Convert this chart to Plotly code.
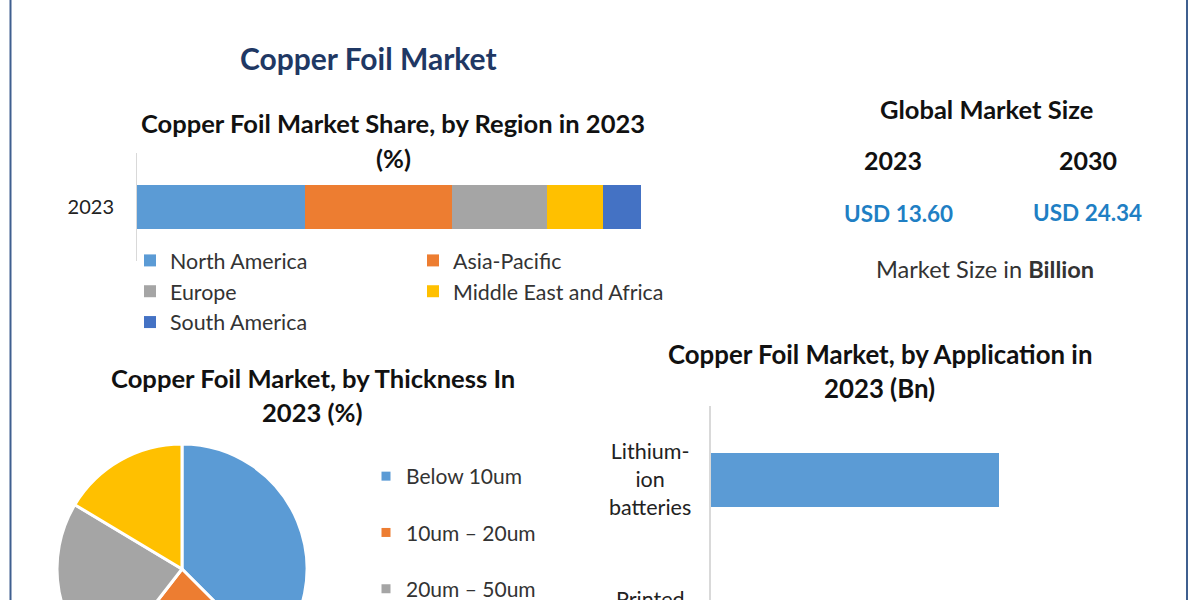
import plotly.graph_objects as go

W = 1200
H = 720
FONT = "Lato"

# market share by region, 2023 (%)
regions = ["North America", "Asia-Pacific", "Europe", "Middle East and Africa", "South America"]
region_share = [33.3, 29.2, 18.9, 11.1, 7.5]
region_colors = ["#5b9bd5", "#ed7d31", "#a5a5a5", "#ffc000", "#4472c4"]
region_legend = ["legend", "legend2", "legend", "legend2", "legend"]
share_year = ["2023"]

# by thickness, 2023 (%)
thickness = ["Below 10um", "10um – 20um", "20um – 50um", "Above 50um"]
thickness_share = [37.5, 23.0, 23.1, 16.4]
thickness_colors = ["#5b9bd5", "#ed7d31", "#a5a5a5", "#ffc000"]

# by application, 2023 (Bn)
applications = ["Lithium-ion batteries", "Printed Circuit Boards"]
application_labels = ["Lithium-<br>ion<br>batteries", "Printed<br>Circuit<br>Boards"]
application_values = [7.2, 4.1]

# market size
size_years = ["2023", "2030"]
size_values = ["USD 13.60", "USD 24.34"]


def px_x(x):
    return x / W


def px_y(y):
    return 1 - y / H


def add_text(fig, x, y, text, size=21, color="#111111", bold=False):
    if bold:
        text = "<b>" + text + "</b>"
    fig.add_annotation(x=px_x(x), y=px_y(y), xref="paper", yref="paper", text=text, showarrow=False,
                       align="center", xanchor="center", yanchor="middle",
                       font=dict(family=FONT, size=size, color=color))


fig = go.Figure()

# stacked bar, region share
for name, val, col, leg in zip(regions, region_share, region_colors, region_legend):
    fig.add_trace(go.Bar(x=[val], y=share_year, name=name, orientation="h", width=0.41,
                         marker=dict(color=col, line_width=0), legend=leg,
                         xaxis="x", yaxis="y"))

# pie, thickness
fig.add_trace(go.Pie(labels=thickness, values=thickness_share, sort=False, direction="clockwise",
                     rotation=0, textinfo="none", showlegend=False,
                     marker=dict(colors=thickness_colors, line=dict(color="white", width=3)),
                     domain=dict(x=[px_x(57), px_x(307)], y=[px_y(694), px_y(444)])))

# pie legend entries, one group each so the rows can be spaced out
for name, col in zip(thickness, thickness_colors):
    fig.add_trace(go.Scatter(x=[None], y=[None], mode="markers", name=name, legendgroup=name,
                             marker=dict(symbol="square", size=9, color=col),
                             legend="legend3", xaxis="x", yaxis="y"))

# horizontal bars, application
fig.add_trace(go.Bar(x=application_values, y=applications, orientation="h", width=0.36,
                     marker=dict(color="#5b9bd5", line_width=0), showlegend=False,
                     xaxis="x2", yaxis="y2"))

for lab, cat in zip(application_labels, applications):
    fig.add_annotation(x=px_x(650), y=cat, xref="paper", yref="y2", text=lab, showarrow=False,
                       align="center", xanchor="center", yanchor="middle", yshift=1,
                       font=dict(family=FONT, size=21.5, color="#222222"))

add_text(fig, 368, 57.5, "Copper Foil Market", size=30, color="#1f3864", bold=True)
add_text(fig, 393, 123, "Copper Foil Market Share, by Region in 2023", size=25.5, bold=True)
add_text(fig, 393, 158, "(%)", size=25.5, bold=True)
add_text(fig, 313, 378, "Copper Foil Market, by Thickness In", size=25.6, bold=True)
add_text(fig, 313, 412, "2023 (%)", size=25.6, bold=True)
add_text(fig, 880, 354, "Copper Foil Market, by Application in", size=25.8, bold=True)
add_text(fig, 880, 388, "2023 (Bn)", size=25.8, bold=True)

add_text(fig, 986, 109, "Global Market Size", size=25.5, bold=True)
add_text(fig, 893, 160, size_years[0], size=25, bold=True)
add_text(fig, 1088, 160, size_years[1], size=25, bold=True)
add_text(fig, 898, 213, size_values[0], size=22.5, color="#1f7fc4", bold=True)
add_text(fig, 1087, 212, size_values[1], size=22.5, color="#1f7fc4", bold=True)
add_text(fig, 985, 269, "Market Size in <b>Billion</b>", size=23.6, color="#333333")

# frame lines left and right
for xp in [10.5, 1187]:
    fig.add_shape(type="line", xref="paper", yref="paper", x0=px_x(xp), x1=px_x(xp), y0=0, y1=1,
                  line=dict(color="#3f5f8f", width=2))

legend_base = dict(orientation="v", bgcolor="rgba(0,0,0,0)", xanchor="left", yanchor="top",
                   traceorder="normal", font=dict(family=FONT, size=21.4, color="#333333"),
                   itemclick=False, itemdoubleclick=False)

fig.update_layout(
    width=W, height=H, margin=dict(l=0, r=0, t=0, b=0),
    paper_bgcolor="white", plot_bgcolor="white", barmode="stack",
    hovermode=False,
    xaxis=dict(domain=[px_x(137), px_x(641)], range=[0, 100], visible=False),
    yaxis=dict(domain=[px_y(261), px_y(153)], type="category", anchor="x",
               showline=True, linecolor="#d9d9d9", linewidth=1, ticks="", ticklabelstandoff=18,
               tickfont=dict(family=FONT, size=20, color="#222222")),
    xaxis2=dict(domain=[px_x(711), px_x(1100)], range=[0, 9.72], visible=False, anchor="y2"),
    yaxis2=dict(domain=[px_y(702), px_y(406)], type="category", anchor="x2", autorange="reversed",
                showline=True, linecolor="#d9d9d9", linewidth=1.5, ticks="", showticklabels=False),
    legend=dict(legend_base, x=px_x(130), y=px_y(240)),
    legend2=dict(legend_base, x=px_x(413), y=px_y(240)),
    legend3=dict(legend_base, x=px_x(366), y=px_y(456), traceorder="grouped", tracegroupgap=26,
                 itemsizing="trace", font=dict(family=FONT, size=21, color="#333333")),
)

# the figure runs past the 600px window, same as the cropped original
fig.write_html("out.html", config=dict(displayModeBar=False),
               post_script="document.body.style.margin='0';document.documentElement.style.overflow='hidden';")
